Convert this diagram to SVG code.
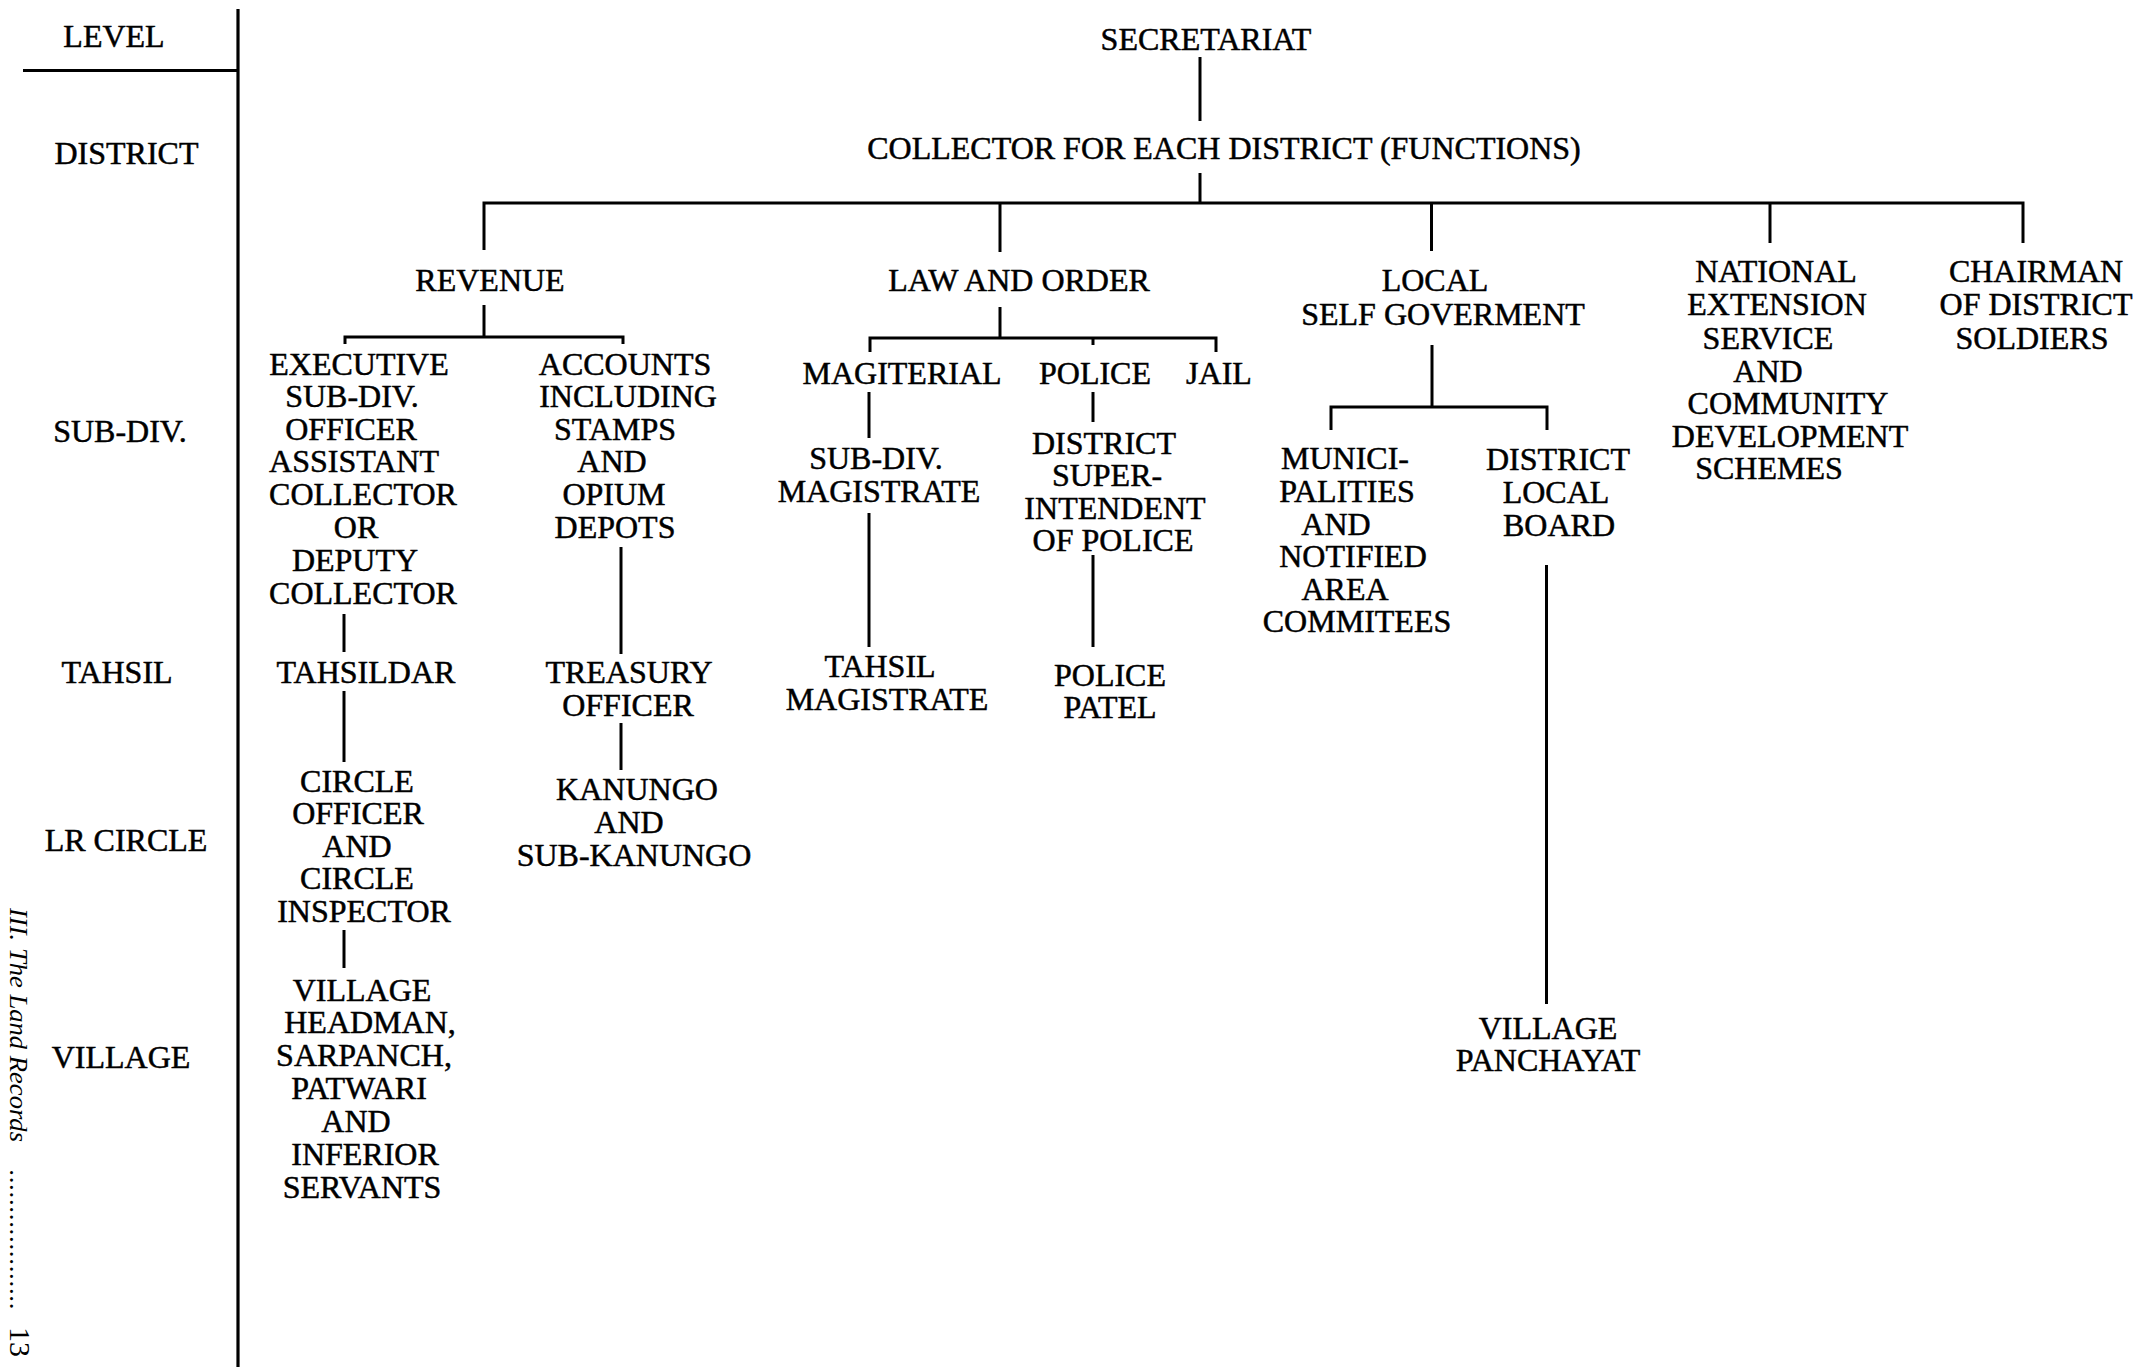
<svg xmlns="http://www.w3.org/2000/svg" width="2156" height="1367" viewBox="0 0 2156 1367">
  <style>
    .t { font-family: "Liberation Serif", "Times New Roman", serif; font-size: 32px; fill: #000; stroke: #000; stroke-width: 0.5; text-anchor: middle; }
    .foot { font-family: "Liberation Serif", "Times New Roman", serif; font-size: 26px; font-style: italic; fill: #000; }
    .folio { font-family: "Liberation Serif", "Times New Roman", serif; font-size: 30px; font-style: normal; fill: #000; }
    .ln { fill: none; stroke: #000; stroke-width: 3; stroke-linecap: butt; stroke-linejoin: miter; }
    .frame { fill: none; stroke: #000; stroke-width: 3.2; }
  </style>

  <rect width="2156" height="1367" fill="#fff"/>

  <!-- Level column frame -->
  <g id="level-frame">
    <line class="frame" x1="238" y1="9" x2="238" y2="1367"/>
    <line class="frame" x1="23" y1="70.5" x2="238" y2="70.5"/>
  </g>

  <!-- Level labels -->
  <g id="levels">
    <text class="t" x="114" y="47">LEVEL</text>
    <text class="t" x="126.5" y="164">DISTRICT</text>
    <text class="t" x="120" y="442">SUB-DIV.</text>
    <text class="t" x="117" y="683">TAHSIL</text>
    <text class="t" x="126" y="851">LR CIRCLE</text>
    <text class="t" x="121" y="1068">VILLAGE</text>
  </g>

  <!-- Running footer along the left margin -->
  <g id="footer" transform="translate(10,908) rotate(90)">
    <text class="foot" x="0" y="0" textLength="234" lengthAdjust="spacingAndGlyphs">III. The Land Records</text>
    <text class="foot" x="262" y="0" textLength="140" lengthAdjust="spacing">...................</text>
    <text class="folio" x="419" y="0">13</text>
  </g>

  <!-- Connectors -->
  <g id="connectors">
    <!-- top chain -->
    <path class="ln" d="M1200 57 V121"/>
    <path class="ln" d="M1200 173 V203"/>
    <!-- function bar -->
    <path class="ln" d="M484 250 V203 H2023 V243"/>
    <path class="ln" d="M1000 203 V252"/>
    <path class="ln" d="M1431.5 203 V251"/>
    <path class="ln" d="M1770 203 V243"/>

    <!-- revenue -->
    <path class="ln" d="M484 305 V337"/>
    <path class="ln" d="M345 344 V337 H623 V344"/>
    <path class="ln" d="M344 614 V652"/>
    <path class="ln" d="M344 691 V762"/>
    <path class="ln" d="M344 930 V968"/>
    <path class="ln" d="M621 547 V654"/>
    <path class="ln" d="M621 723 V770"/>

    <!-- law and order -->
    <path class="ln" d="M1000 307 V338"/>
    <path class="ln" d="M870 352 V338 H1216 V352"/>
    <path class="ln" d="M1093 338 V345"/>
    <path class="ln" d="M869 392 V438"/>
    <path class="ln" d="M869 513 V647"/>
    <path class="ln" d="M1093 392 V422"/>
    <path class="ln" d="M1093 555 V647"/>

    <!-- local self government -->
    <path class="ln" d="M1432 345 V407"/>
    <path class="ln" d="M1331 430 V407 H1547 V430"/>
    <path class="ln" d="M1546.5 565 V1004"/>
  </g>

  <!-- Nodes -->
  <g id="secretariat">
    <text class="t" x="1206" y="50">SECRETARIAT</text>
  </g>
  <g id="collector">
    <text class="t" x="1224" y="159">COLLECTOR FOR EACH DISTRICT (FUNCTIONS)</text>
  </g>

  <g id="revenue">
    <text class="t" x="490" y="291">REVENUE</text>
  </g>
  <g id="executive-sdo">
    <text class="t" x="359" y="375">EXECUTIVE</text>
    <text class="t" x="352" y="407">SUB-DIV.</text>
    <text class="t" x="351" y="440">OFFICER</text>
    <text class="t" x="354" y="472">ASSISTANT</text>
    <text class="t" x="363" y="505">COLLECTOR</text>
    <text class="t" x="356" y="538">OR</text>
    <text class="t" x="355" y="571">DEPUTY</text>
    <text class="t" x="363" y="604">COLLECTOR</text>
  </g>
  <g id="accounts">
    <text class="t" x="625" y="375">ACCOUNTS</text>
    <text class="t" x="628" y="407">INCLUDING</text>
    <text class="t" x="615" y="440">STAMPS</text>
    <text class="t" x="612" y="472">AND</text>
    <text class="t" x="614" y="505">OPIUM</text>
    <text class="t" x="615" y="538">DEPOTS</text>
  </g>
  <g id="tahsildar">
    <text class="t" x="366" y="683">TAHSILDAR</text>
  </g>
  <g id="treasury-officer">
    <text class="t" x="629" y="683">TREASURY</text>
    <text class="t" x="628" y="716">OFFICER</text>
  </g>
  <g id="circle-officer">
    <text class="t" x="357" y="792">CIRCLE</text>
    <text class="t" x="358" y="824">OFFICER</text>
    <text class="t" x="357" y="857">AND</text>
    <text class="t" x="357" y="889">CIRCLE</text>
    <text class="t" x="364" y="922">INSPECTOR</text>
  </g>
  <g id="kanungo">
    <text class="t" x="637" y="800">KANUNGO</text>
    <text class="t" x="629" y="833">AND</text>
    <text class="t" x="634" y="866">SUB-KANUNGO</text>
  </g>
  <g id="village-staff">
    <text class="t" x="362" y="1001">VILLAGE</text>
    <text class="t" x="370" y="1033">HEADMAN,</text>
    <text class="t" x="364" y="1066">SARPANCH,</text>
    <text class="t" x="359" y="1099">PATWARI</text>
    <text class="t" x="356" y="1132">AND</text>
    <text class="t" x="365" y="1165">INFERIOR</text>
    <text class="t" x="362" y="1198">SERVANTS</text>
  </g>

  <g id="law-and-order">
    <text class="t" x="1019" y="291">LAW AND ORDER</text>
  </g>
  <g id="magisterial">
    <text class="t" x="902" y="384">MAGITERIAL</text>
  </g>
  <g id="police">
    <text class="t" x="1095" y="384">POLICE</text>
  </g>
  <g id="jail">
    <text class="t" x="1219" y="384">JAIL</text>
  </g>
  <g id="sdm">
    <text class="t" x="876" y="469">SUB-DIV.</text>
    <text class="t" x="879" y="502">MAGISTRATE</text>
  </g>
  <g id="tahsil-magistrate">
    <text class="t" x="880" y="677">TAHSIL</text>
    <text class="t" x="887" y="710">MAGISTRATE</text>
  </g>
  <g id="dsp">
    <text class="t" x="1104" y="454">DISTRICT</text>
    <text class="t" x="1107" y="486">SUPER-</text>
    <text class="t" x="1115" y="519">INTENDENT</text>
    <text class="t" x="1113" y="551">OF POLICE</text>
  </g>
  <g id="police-patel">
    <text class="t" x="1110" y="686">POLICE</text>
    <text class="t" x="1110" y="718">PATEL</text>
  </g>

  <g id="local-self-government">
    <text class="t" x="1435" y="291">LOCAL</text>
    <text class="t" x="1443" y="325">SELF GOVERMENT</text>
  </g>
  <g id="municipalities">
    <text class="t" x="1345" y="469">MUNICI-</text>
    <text class="t" x="1347" y="502">PALITIES</text>
    <text class="t" x="1336" y="535">AND</text>
    <text class="t" x="1353" y="567">NOTIFIED</text>
    <text class="t" x="1345" y="600">AREA</text>
    <text class="t" x="1357" y="632">COMMITEES</text>
  </g>
  <g id="district-local-board">
    <text class="t" x="1558" y="470">DISTRICT</text>
    <text class="t" x="1556" y="503">LOCAL</text>
    <text class="t" x="1559" y="536">BOARD</text>
  </g>
  <g id="village-panchayat">
    <text class="t" x="1548" y="1039">VILLAGE</text>
    <text class="t" x="1548" y="1071">PANCHAYAT</text>
  </g>

  <g id="national-extension">
    <text class="t" x="1776" y="282">NATIONAL</text>
    <text class="t" x="1777" y="315">EXTENSION</text>
    <text class="t" x="1768" y="349">SERVICE</text>
    <text class="t" x="1768" y="382">AND</text>
    <text class="t" x="1788" y="414">COMMUNITY</text>
    <text class="t" x="1790" y="447">DEVELOPMENT</text>
    <text class="t" x="1769" y="479">SCHEMES</text>
  </g>
  <g id="chairman-soldiers">
    <text class="t" x="2036" y="282">CHAIRMAN</text>
    <text class="t" x="2036" y="315">OF DISTRICT</text>
    <text class="t" x="2032" y="349">SOLDIERS</text>
  </g>
</svg>
